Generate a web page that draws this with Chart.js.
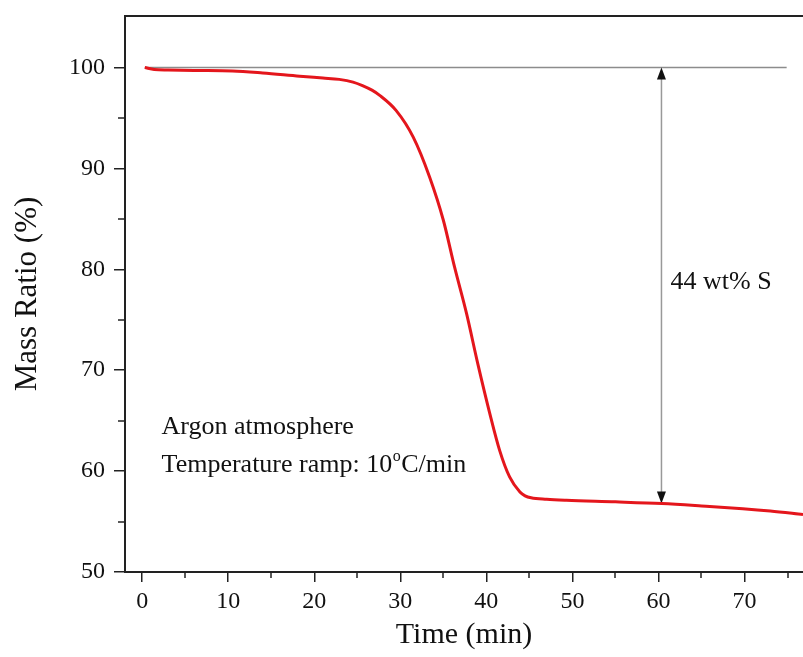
<!DOCTYPE html>
<html>
<head>
<meta charset="utf-8">
<script src="https://cdn.jsdelivr.net/npm/chart.js@4.4.1/dist/chart.umd.min.js"></script>
<style>
html,body{margin:0;padding:0;background:#fff;}
#wrap{width:803px;height:657px;position:relative;}
</style>
</head>
<body>
<div id="wrap"><canvas id="c" width="803" height="657"></canvas></div>
<script>
// ---- data ----
const timeMin = [0.3,1.4,3,6,10.5,14,18.3,21,22.9,24.5,25.6,26.7,27.6,29.5,31.5,33.4,35,36.3,37.7,39,40.4,41.55,42.7,43.9,44.5,45.2,47,49.3,55,60.4,65,69.8,73,76.8];
const massRatio = [100.0,99.8,99.75,99.7,99.65,99.45,99.13,98.95,98.82,98.55,98.2,97.75,97.24,95.75,93.1,89.15,84.86,80.23,75.6,70.65,65.7,62.03,59.42,57.93,57.55,57.35,57.2,57.1,56.95,56.78,56.55,56.28,56.05,55.7];
const xMajorTicks = [0,10,20,30,40,50,60,70];
const xMinorTicks = [5,15,25,35,45,55,65,75];
const yMajorTicks = [50,60,70,80,90,100];
const yMinorTicks = [55,65,75,85,95];
const xLabel = 'Time (min)';
const yLabel = 'Mass Ratio (%)';
// annotations (in data units)
const refLevel = 100;
const refLineStart = 0.3;
const refLineEnd = 74.9;
const arrowTime = 60.35;
const arrowLow = 56.78;
const lossLabel = '44 wt% S';
const lossLabelPos = [61.4, 78.7];
const noteLine1 = 'Argon atmosphere';
const noteLine1Pos = [2.25, 64.35];
const noteLine2Parts = ['Temperature ramp: 10', 'o', 'C/min'];
const noteLine2Pos = [2.25, 60.55];

const SERIF = '"Liberation Serif", "Times New Roman", serif';
const AXIS_COLOR = '#222';

const points = timeMin.map((t,i)=>({x:t, y:massRatio[i]}));

const bgPlugin = {
  id:'bg',
  beforeDraw(chart){
    const ctx = chart.ctx;
    ctx.save(); ctx.fillStyle='#fff'; ctx.fillRect(0,0,chart.width,chart.height); ctx.restore();
  }
};

function arrowHead(ctx, x, y, dir){
  const h = 12, w = 4.5;
  ctx.beginPath();
  ctx.moveTo(x, y);
  ctx.lineTo(x - w, y - dir*h);
  ctx.lineTo(x + w, y - dir*h);
  ctx.closePath();
  ctx.fill();
}

const annoPlugin = {
  id:'anno',
  beforeDatasetsDraw(chart){
    const {ctx, scales:{x,y}} = chart;
    ctx.save();
    ctx.strokeStyle = '#8c8c8c'; ctx.lineWidth = 1.5;
    ctx.beginPath();
    ctx.moveTo(x.getPixelForValue(refLineStart), y.getPixelForValue(refLevel));
    ctx.lineTo(x.getPixelForValue(refLineEnd), y.getPixelForValue(refLevel));
    ctx.stroke();
    const ax = x.getPixelForValue(arrowTime);
    const yTop = y.getPixelForValue(refLevel), yBot = y.getPixelForValue(arrowLow);
    ctx.strokeStyle = '#999'; ctx.lineWidth = 1.5;
    ctx.beginPath(); ctx.moveTo(ax, yTop + 6); ctx.lineTo(ax, yBot - 6); ctx.stroke();
    ctx.fillStyle = '#111';
    arrowHead(ctx, ax, yTop, -1);
    arrowHead(ctx, ax, yBot, 1);
    ctx.restore();
  },
  afterDraw(chart){
    const {ctx, scales:{x,y}, chartArea} = chart;
    ctx.save();
    ctx.strokeStyle = AXIS_COLOR; ctx.lineWidth = 2;
    ctx.beginPath(); ctx.moveTo(chartArea.left, chartArea.top); ctx.lineTo(chart.width, chartArea.top); ctx.stroke();
    ctx.lineWidth = 1.5;
    xMinorTicks.forEach(v=>{
      const px = Math.round(x.getPixelForValue(v));
      if (px > chart.width) return;
      ctx.beginPath(); ctx.moveTo(px, chartArea.bottom); ctx.lineTo(px, chartArea.bottom + 6); ctx.stroke();
    });
    yMinorTicks.forEach(v=>{
      const py = Math.round(y.getPixelForValue(v));
      ctx.beginPath(); ctx.moveTo(chartArea.left, py); ctx.lineTo(chartArea.left - 7, py); ctx.stroke();
    });
    ctx.fillStyle = '#111';
    ctx.textBaseline = 'middle';
    ctx.textAlign = 'left';
    ctx.font = '26px ' + SERIF;
    ctx.fillText(lossLabel, x.getPixelForValue(lossLabelPos[0]), y.getPixelForValue(lossLabelPos[1]));
    ctx.fillText(noteLine1, x.getPixelForValue(noteLine1Pos[0]), y.getPixelForValue(noteLine1Pos[1]));
    let tx = x.getPixelForValue(noteLine2Pos[0]);
    const ty = y.getPixelForValue(noteLine2Pos[1]);
    ctx.fillText(noteLine2Parts[0], tx, ty);
    tx += ctx.measureText(noteLine2Parts[0]).width;
    ctx.font = '16px ' + SERIF;
    ctx.fillText(noteLine2Parts[1], tx + 0.5, ty - 9);
    tx += ctx.measureText(noteLine2Parts[1]).width + 1;
    ctx.font = '26px ' + SERIF;
    ctx.fillText(noteLine2Parts[2], tx, ty);
    ctx.restore();
  }
};

new Chart(document.getElementById('c'), {
  type:'line',
  data:{
    datasets:[{
      data: points,
      borderColor:'rgb(228,22,28)',
      borderWidth:3,
      pointRadius:0,
      fill:false,
      cubicInterpolationMode:'monotone'
    }]
  },
  options:{
    responsive:false,
    animation:false,
    layout:{padding:{top:16,right:0,left:0,bottom:0}},
    plugins:{legend:{display:false}, tooltip:{enabled:false}},
    scales:{
      x:{
        type:'linear', min:-2, max:76.8,
        afterBuildTicks(s){ s.ticks = xMajorTicks.map(v=>({value:v})); },
        afterFit(s){ s.height = 85; s.paddingLeft = 0; s.paddingRight = 0; },
        grid:{display:true, drawOnChartArea:false, drawTicks:true, tickLength:10, color:AXIS_COLOR, lineWidth:1.5},
        border:{display:true, color:AXIS_COLOR, width:2},
        ticks:{color:'#111', font:{family:SERIF, size:24}, padding:5, maxRotation:0, autoSkip:false},
        title:{display:true, text:xLabel, color:'#111', font:{family:SERIF, size:30}, padding:{top:0,bottom:4}}
      },
      y:{
        type:'linear', min:50, max:105.1,
        afterBuildTicks(s){ s.ticks = yMajorTicks.map(v=>({value:v})); },
        afterFit(s){ s.width = 125; s.paddingTop = 0; s.paddingBottom = 0; },
        grid:{display:true, drawOnChartArea:false, drawTicks:true, tickLength:11, color:AXIS_COLOR, lineWidth:1.5},
        border:{display:true, color:AXIS_COLOR, width:2},
        ticks:{color:'#111', font:{family:SERIF, size:24}, padding:9, autoSkip:false},
        title:{display:true, text:yLabel, color:'#111', font:{family:SERIF, size:31}, padding:{top:9,bottom:0}}
      }
    }
  },
  plugins:[bgPlugin, annoPlugin]
});
</script>
</body>
</html>
